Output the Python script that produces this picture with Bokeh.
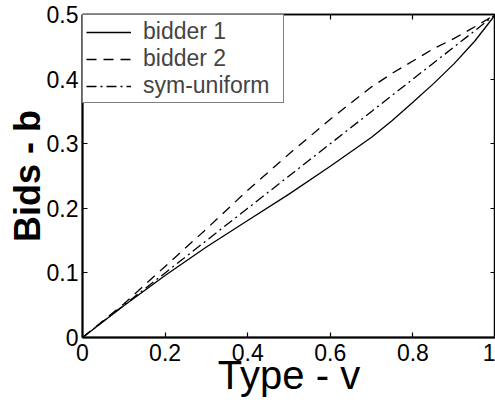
from bokeh.plotting import figure
from bokeh.models import LinearAxis, FixedTicker, CustomJSTickFormatter, Range1d
from bokeh.embed import file_html
from bokeh.resources import INLINE

# Data
v = [0.0, 0.1, 0.2, 0.3, 0.4, 0.5, 0.6, 0.7, 0.75, 0.8, 0.85, 0.9, 0.95, 1.0]
bidder1 = [0.0, 0.049, 0.096, 0.140, 0.181, 0.222, 0.265, 0.310, 0.336, 0.364, 0.393, 0.424, 0.459, 0.5]
bidder2 = [0.0, 0.052, 0.110, 0.168, 0.228, 0.284, 0.338, 0.388, 0.409, 0.428, 0.447, 0.463, 0.481, 0.5]
sym_uniform = [0.0, 0.05, 0.10, 0.15, 0.20, 0.25, 0.30, 0.35, 0.375, 0.40, 0.425, 0.45, 0.475, 0.5]
x_ticks = [0, 0.2, 0.4, 0.6, 0.8, 1]
y_ticks = [0, 0.1, 0.2, 0.3, 0.4, 0.5]
x_title = "Type - v"
y_title = "Bids - b"

FONT = "Liberation Sans"

p = figure(width=495, height=407, x_range=Range1d(0, 1), y_range=Range1d(0, 0.5),
           output_backend="svg", toolbar_location=None,
           min_border_left=82, min_border_right=0, min_border_top=14, min_border_bottom=70)
p.grid.visible = False
p.outline_line_color = "black"
p.outline_line_width = 1.5

p.line(v, bidder1, line_color="black", line_width=1.3, legend_label="bidder 1")
p.line(v, bidder2, line_color="black", line_width=1.3, line_dash="10 7", legend_label="bidder 2")
p.line(v, sym_uniform, line_color="black", line_width=1.3, line_dash="10 4 2 4", legend_label="sym-uniform")

fmt_code = "return tick.toString();"

def style_axis(ax, ticks, labels=True):
    ax.ticker = FixedTicker(ticks=ticks)
    ax.formatter = CustomJSTickFormatter(code=fmt_code)
    ax.major_tick_in = 5
    ax.major_tick_out = 0
    ax.minor_tick_in = 0
    ax.minor_tick_out = 0
    ax.major_tick_line_color = "black"
    ax.major_tick_line_width = 1.2
    ax.axis_line_color = "black"
    if labels:
        ax.major_label_text_font = FONT
        ax.major_label_text_font_size = "23px"
        ax.major_label_text_color = "black"
    else:
        ax.major_label_text_font_size = "1px"
        ax.major_label_text_color = None
        ax.major_label_standoff = 0

style_axis(p.xaxis[0], x_ticks)
style_axis(p.yaxis[0], y_ticks)
p.xaxis[0].axis_line_width = 2
p.yaxis[0].axis_line_width = 2
p.xaxis[0].major_label_standoff = 6
p.yaxis[0].major_label_standoff = 4

p.xaxis[0].axis_label = x_title
p.xaxis[0].axis_label_text_font = FONT
p.xaxis[0].axis_label_text_font_size = "40px"
p.xaxis[0].axis_label_text_font_style = "normal"
p.xaxis[0].axis_label_text_color = "black"
p.xaxis[0].axis_label_standoff = -11

p.yaxis[0].axis_label = y_title
p.yaxis[0].axis_label_text_font = FONT
p.yaxis[0].axis_label_text_font_size = "36px"
p.yaxis[0].axis_label_text_font_style = "bold"
p.yaxis[0].axis_label_text_color = "black"
p.yaxis[0].axis_label_standoff = -4

top = LinearAxis()
style_axis(top, x_ticks, labels=False)
top.axis_line_width = 1.5
p.add_layout(top, "above")

right = LinearAxis()
style_axis(right, y_ticks, labels=False)
right.axis_line_width = 1.5
p.add_layout(right, "right")

lg = p.legend[0]
lg.location = "top_left"
lg.margin = 0
lg.border_line_color = "black"
lg.border_line_width = 1.5
lg.background_fill_color = "white"
lg.background_fill_alpha = 1
lg.label_text_font = FONT
lg.label_text_font_size = "23px"
lg.glyph_width = 45
lg.label_standoff = 12
lg.label_width = 137
lg.padding = 3
lg.spacing = -7

open("out.html", "w").write(file_html(p, INLINE))
